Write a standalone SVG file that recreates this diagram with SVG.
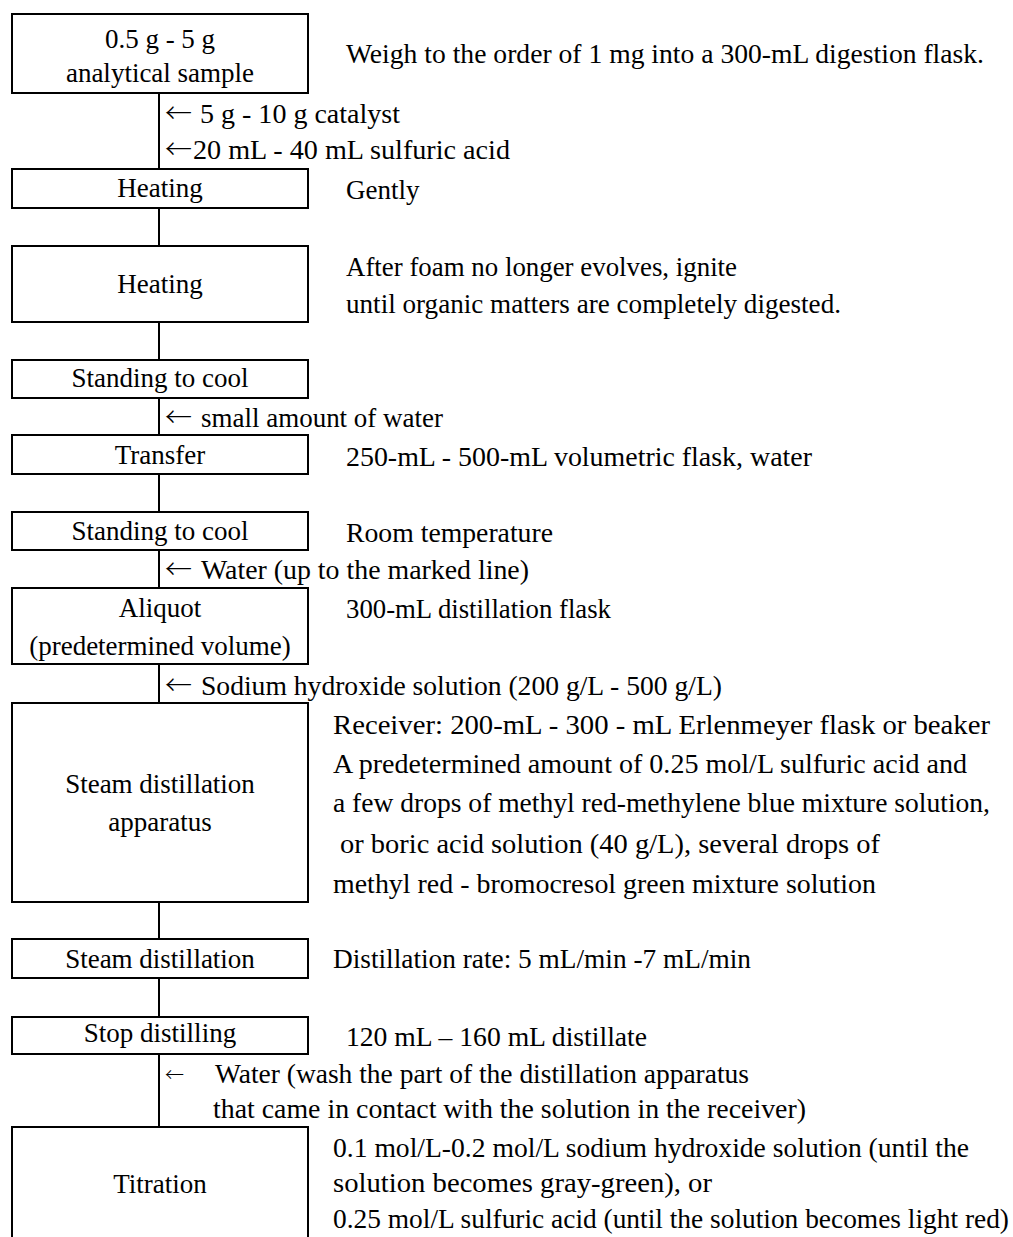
<svg xmlns="http://www.w3.org/2000/svg" width="1013" height="1237" viewBox="0 0 1013 1237" xml:space="preserve">
<style>
  .box { fill: #ffffff; stroke: #000000; stroke-width: 2; }
  .conn { stroke: #000000; stroke-width: 2; fill: none; }
  text { font-family: "Liberation Serif", "DejaVu Serif", serif; font-size: 27px; fill: #000000; }
  .c { text-anchor: middle; }
  .arr { font-family: "Noto Sans CJK JP", "DejaVu Sans", sans-serif; font-weight: 300; }
</style>
<rect x="0" y="0" width="1013" height="1237" fill="#ffffff"/>

<g id="connectors">
  <line class="conn" x1="159" y1="93" x2="159" y2="169"/>
  <line class="conn" x1="159" y1="208" x2="159" y2="246"/>
  <line class="conn" x1="159" y1="322" x2="159" y2="360"/>
  <line class="conn" x1="159" y1="398" x2="159" y2="435"/>
  <line class="conn" x1="159" y1="474" x2="159" y2="512"/>
  <line class="conn" x1="159" y1="550" x2="159" y2="588"/>
  <line class="conn" x1="159" y1="664" x2="159" y2="703"/>
  <line class="conn" x1="159" y1="902" x2="159" y2="939"/>
  <line class="conn" x1="159" y1="978" x2="159" y2="1017"/>
  <line class="conn" x1="159" y1="1054" x2="159" y2="1127"/>
</g>

<g id="node-sample">
  <rect class="box" x="12" y="14" width="296" height="79"/>
  <text class="c" x="160" y="48">0.5 g - 5 g</text>
  <text class="c" x="160" y="82">analytical sample</text>
  <text x="346" y="63" textLength="638" lengthAdjust="spacingAndGlyphs">Weigh to the order of 1 mg into a 300-mL digestion flask.</text>
</g>

<g id="add-catalyst">
  <text x="165" y="123" class="arr">←</text>
  <text x="200" y="123" textLength="200" lengthAdjust="spacingAndGlyphs">5 g - 10 g catalyst</text>
  <text x="165" y="159" class="arr">←</text>
  <text x="193" y="159" textLength="317" lengthAdjust="spacingAndGlyphs">20 mL - 40 mL  sulfuric acid</text>
</g>

<g id="node-heating1">
  <rect class="box" x="12" y="169" width="296" height="39"/>
  <text class="c" x="160" y="197">Heating</text>
  <text x="346" y="199">Gently</text>
</g>

<g id="node-heating2">
  <rect class="box" x="12" y="246" width="296" height="76"/>
  <text class="c" x="160" y="293">Heating</text>
  <text x="346" y="276" textLength="391" lengthAdjust="spacingAndGlyphs">After foam no longer evolves, ignite</text>
  <text x="346" y="313" textLength="495" lengthAdjust="spacingAndGlyphs">until organic matters are completely digested.</text>
</g>

<g id="node-cool1">
  <rect class="box" x="12" y="360" width="296" height="38"/>
  <text class="c" x="160" y="387">Standing to cool</text>
</g>

<g id="add-water1">
  <text x="165" y="427" class="arr">←</text>
  <text x="201" y="427" textLength="242" lengthAdjust="spacingAndGlyphs">small amount of water</text>
</g>

<g id="node-transfer">
  <rect class="box" x="12" y="435" width="296" height="39"/>
  <text class="c" x="160" y="464">Transfer</text>
  <text x="346" y="466" textLength="466" lengthAdjust="spacingAndGlyphs">250-mL - 500-mL volumetric flask, water</text>
</g>

<g id="node-cool2">
  <rect class="box" x="12" y="512" width="296" height="38"/>
  <text class="c" x="160" y="540">Standing to cool</text>
  <text x="346" y="542" textLength="207" lengthAdjust="spacingAndGlyphs">Room temperature</text>
</g>

<g id="add-water2">
  <text x="165" y="579" class="arr">←</text>
  <text x="201" y="579" textLength="328" lengthAdjust="spacingAndGlyphs">Water (up to the marked line)</text>
</g>

<g id="node-aliquot">
  <rect class="box" x="12" y="588" width="296" height="76"/>
  <text class="c" x="160" y="617">Aliquot</text>
  <text class="c" x="160" y="655">(predetermined volume)</text>
  <text x="346" y="618" textLength="265" lengthAdjust="spacingAndGlyphs">300-mL distillation flask</text>
</g>

<g id="add-naoh">
  <text x="165" y="695" class="arr">←</text>
  <text x="201" y="695" textLength="521" lengthAdjust="spacingAndGlyphs">Sodium hydroxide solution (200 g/L - 500 g/L)</text>
</g>

<g id="node-apparatus">
  <rect class="box" x="12" y="703" width="296" height="199"/>
  <text class="c" x="160" y="793">Steam distillation</text>
  <text class="c" x="160" y="831">apparatus</text>
  <text x="333" y="734" textLength="657" lengthAdjust="spacingAndGlyphs">Receiver: 200-mL - 300 - mL Erlenmeyer flask or  beaker</text>
  <text x="333" y="773" textLength="634" lengthAdjust="spacingAndGlyphs">A predetermined amount of 0.25 mol/L sulfuric acid and</text>
  <text x="333" y="812" textLength="657" lengthAdjust="spacingAndGlyphs">a few drops of methyl red-methylene blue mixture solution,</text>
  <text x="340" y="853" textLength="540" lengthAdjust="spacingAndGlyphs">or boric acid solution (40 g/L), several drops of</text>
  <text x="333" y="893" textLength="543" lengthAdjust="spacingAndGlyphs">methyl red - bromocresol green mixture solution</text>
</g>

<g id="node-steam">
  <rect class="box" x="12" y="939" width="296" height="39"/>
  <text class="c" x="160" y="968">Steam distillation</text>
  <text x="333" y="968" textLength="418" lengthAdjust="spacingAndGlyphs">Distillation rate: 5 mL/min -7 mL/min</text>
</g>

<g id="node-stop">
  <rect class="box" x="12" y="1017" width="296" height="37"/>
  <text class="c" x="160" y="1042">Stop distilling</text>
  <text x="346" y="1046" textLength="301" lengthAdjust="spacingAndGlyphs">120 mL – 160 mL distillate</text>
</g>

<g id="add-wash">
  <text x="165" y="1082" class="arr" style="font-size:19px">←</text>
  <text x="215" y="1083" textLength="534" lengthAdjust="spacingAndGlyphs">Water (wash the part of the distillation apparatus</text>
  <text x="213" y="1118" textLength="593" lengthAdjust="spacingAndGlyphs">that came in contact with the solution  in the receiver)</text>
</g>

<g id="node-titration">
  <path class="box" d="M12,1245 L12,1127 L308,1127 L308,1245"/>
  <text class="c" x="160" y="1193">Titration</text>
  <text x="333" y="1157" textLength="636" lengthAdjust="spacingAndGlyphs">0.1 mol/L-0.2 mol/L sodium hydroxide solution (until the</text>
  <text x="333" y="1192" textLength="379" lengthAdjust="spacingAndGlyphs">solution becomes gray-green), or</text>
  <text x="333" y="1228" textLength="676" lengthAdjust="spacingAndGlyphs">0.25 mol/L sulfuric acid (until the solution becomes light red)</text>
</g>
</svg>
